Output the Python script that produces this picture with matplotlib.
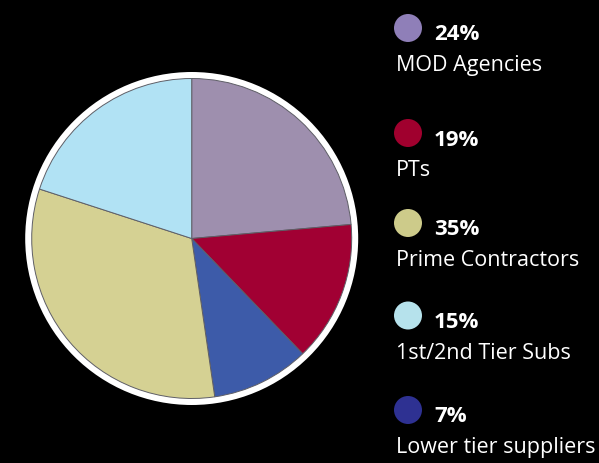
import matplotlib
matplotlib.use("Agg")
import matplotlib.pyplot as plt
from matplotlib.patches import Circle

# Categories in clockwise drawing order of the pie (starting at 12 o'clock)
pie_categories = ["MOD Agencies", "PTs", "Lower tier suppliers", "Prime Contractors", "1st/2nd Tier Subs"]
# Wedge sizes as drawn in the picture (percent of the circle)
pie_values = [23.6, 14.2, 9.9, 32.3, 20.0]
pie_colors = ["#9E8FAE", "#A10033", "#3D5BA9", "#D5D193", "#B1E2F4"]

# Legend (as printed on the right)
legend_labels = ["MOD Agencies", "PTs", "Prime Contractors", "1st/2nd Tier Subs", "Lower tier suppliers"]
legend_percents = [24, 19, 35, 15, 7]
legend_colors = ["#8F7FB8", "#A0002E", "#CDCB8A", "#B6E2EC", "#2E3192"]

W, H = 599, 464
fig = plt.figure(figsize=(W / 100, H / 100), dpi=100, facecolor="black")
ax = fig.add_axes([0, 0, 1, 1])
ax.set_facecolor("black")

cx, cy, r = 191.7, H - 239.5, 160
ax.add_patch(Circle((cx, cy), r + 6.5, facecolor="white", edgecolor="none", zorder=1))
wedges, _ = ax.pie(pie_values, colors=pie_colors, startangle=90, counterclock=False,
                   center=(cx, cy), radius=r, frame=True,
                   wedgeprops=dict(edgecolor="#5e5e66", linewidth=0.7))
for w in wedges:
    w.set_zorder(2)
ax.set_xlim(0, W)
ax.set_ylim(0, H)
ax.set_aspect("auto")
ax.axis("off")

font = "Open Sans"
circle_y = [29, 134, 224, 316.5, 411]
for lab, pct, col, yc in zip(legend_labels, legend_percents, legend_colors, circle_y):
    ax.add_patch(Circle((408, H - yc), 14, facecolor=col, edgecolor="none", zorder=3))
    ax.text(434, H - (yc + 11.5), f"{pct}%", color="white", fontsize=16,
            fontweight="bold", family=font, ha="left", va="baseline")
    ax.text(396, H - (yc + 42.5), lab, color="white", fontsize=15.5,
            family=font, ha="left", va="baseline")

fig.savefig("out.png", dpi=100, facecolor="black")
